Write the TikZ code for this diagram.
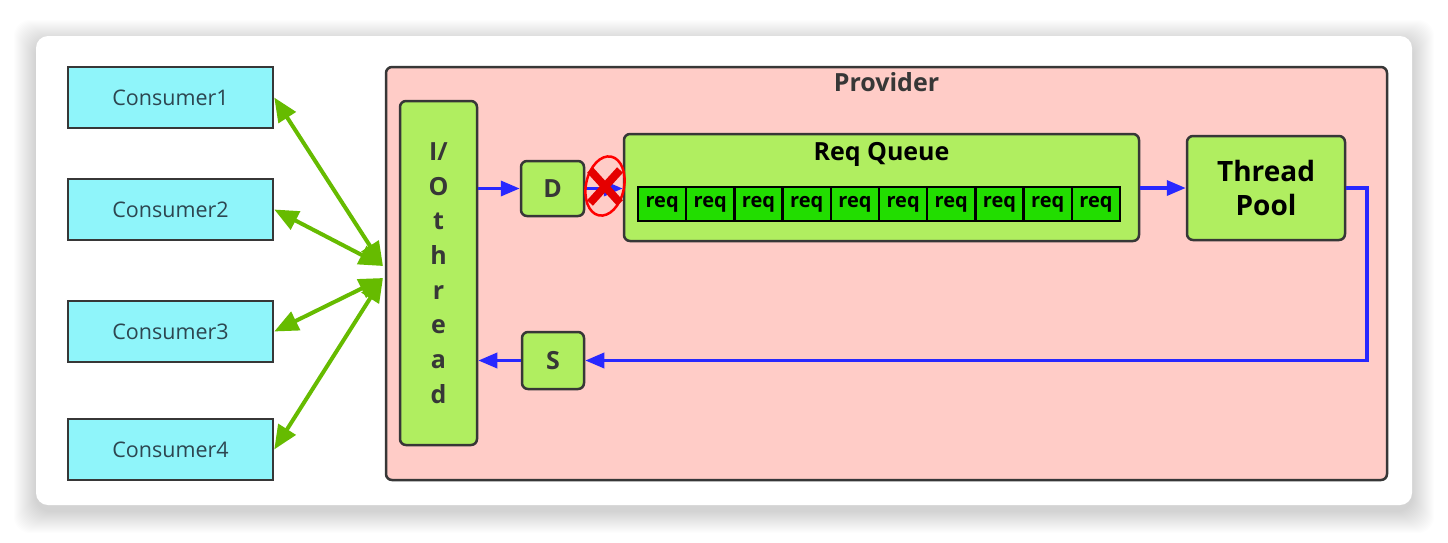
\documentclass[tikz,border=0pt]{standalone}
\usepackage{fontspec}
\setmainfont{Open Sans}
\usetikzlibrary{arrows.meta,calc,positioning,shapes.geometric}
\definecolor{cyanbox}{RGB}{143,245,250}
\definecolor{pinkbox}{RGB}{255,204,199}
\definecolor{limebox}{RGB}{176,238,96}
\definecolor{reqgreen}{RGB}{34,221,0}
\definecolor{flowblue}{RGB}{40,40,255}
\definecolor{linkgreen}{RGB}{102,187,0}
\definecolor{edge}{RGB}{55,55,55}
\definecolor{consumertext}{RGB}{45,70,80}
\tikzset{%
	consumer/.style = {draw=edge, line width=2.5pt, fill=cyanbox, minimum width=205pt, minimum height=61pt, text=consumertext, font=\fontsize{21.5}{25}\selectfont},
	provider/.style = {draw=edge, line width=2.5pt, fill=pinkbox, rounded corners=6pt},
	process/.style  = {draw=edge, line width=2.5pt, fill=limebox, rounded corners=6pt, align=center, font=\bfseries\fontsize{25}{30}\selectfont},
	reqcell/.style  = {draw=black, line width=2.5pt, fill=reqgreen, minimum width=48.2pt, minimum height=34pt, inner sep=0pt, font=\bfseries\fontsize{20}{22}\selectfont},
	arrow/.style    = {flowblue, line width=3.5pt, -{Triangle[length=19pt,width=15pt]}},
	link/.style     = {linkgreen, line width=4pt, {Triangle[length=24pt,width=20pt]}-{Triangle[length=24pt,width=20pt]}},
}
\begin{document}
\begin{tikzpicture}[x=1pt,y=-1pt]
	\useasboundingbox (0,0) rectangle (1448,542);
	% card with soft shadow
	\foreach \s in {1,...,22}
		\fill[black,opacity=0.007,rounded corners=16pt] (36-\s,36-\s+6) rectangle (1412+\s,505+\s+6);
	\fill[white,rounded corners=12pt] (36,36) rectangle (1412,505);
	% consumers
	\node[consumer] (c1) at (170.5,97.5) {Consumer1};
	\node[consumer] (c2) at (170.5,209.5) {Consumer2};
	\node[consumer] (c3) at (170.5,331.5) {Consumer3};
	\node[consumer] (c4) at (170.5,449.5) {Consumer4};
	% provider
	\node[provider, minimum width=1001pt, minimum height=413pt] (prov) at (886.5,273.5) {};
	\node[font=\bfseries\fontsize{25}{30}\selectfont, text=edge, below=3pt of prov.north] (ptitle) {Provider};
	\node[process, minimum width=77pt, minimum height=344pt, text=edge, font=\bfseries\fontsize{25}{34.7}\selectfont] (io) at (438.5,273) {I/\\O\\t\\h\\r\\e\\a\\d};
	\node[process, minimum width=63pt, minimum height=55pt, text=edge] (d) at (552.5,188.5) {D};
	\node[process, minimum width=62pt, minimum height=57pt, text=edge] (s) at (553,360.5) {S};
	\node[process, minimum width=515pt, minimum height=107pt] (queue) at (881.5,187.5) {};
	\node[font=\bfseries\fontsize{25}{30}\selectfont, below=6pt of queue.north] (qtitle) {Req Queue};
	\node[process, minimum width=158pt, minimum height=104pt, font=\bfseries\fontsize{28}{34}\selectfont] (pool) at (1266,188) {Thread\\Pool};
	\foreach \i in {1,...,10}
		\node[reqcell] (req\i) at (638+24.1+48.2*\i-48.2,204) {req};
	% consumer links
	\coordinate (hubA) at (383,266);
	\coordinate (hubB) at (383,278);
	\draw[link] (c1.east) -- (hubA);
	\draw[link] (c2.east) -- (hubA);
	\draw[link] (c3.east) -- (hubB);
	\draw[link] (c4.east) -- (hubB);
	% request flow
	\draw[arrow] (io.east |- d.west) -- (d.west);
	\draw[arrow] (d.east) -- (queue.west |- d.east);
	\draw[arrow] (queue.east |- pool.west) -- (pool.west);
	\draw[arrow] (pool.east) -| (1367,360.5) -- (s.east);
	\draw[arrow] (s.west) -- (io.east |- s.west);
	% blocked
	\node[ellipse, draw=red, line width=2.5pt, minimum width=38pt, minimum height=60pt, rotate=-12] (block) at (605,186) {};
	\draw[red!90!black, line width=8pt] ($(block.center)+(-15,-16)$) -- ($(block.center)+(15,17)$);
	\draw[red!90!black, line width=8pt] ($(block.center)+(-15,17)$) -- ($(block.center)+(15,-16)$);
\end{tikzpicture}
\end{document}
